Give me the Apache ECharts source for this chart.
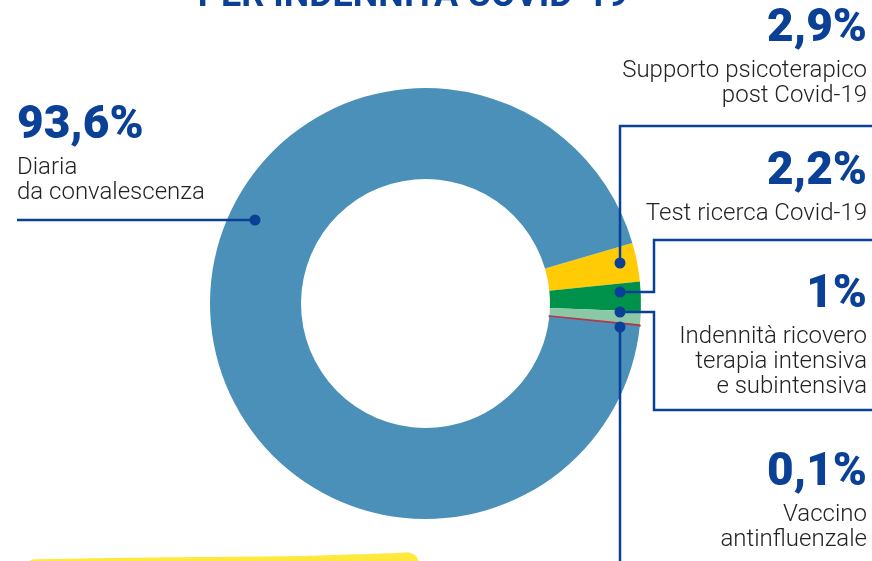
<!DOCTYPE html>
<html>
<head>
<meta charset="utf-8">
<title>Indennità Covid-19</title>
<script src="https://cdn.jsdelivr.net/npm/echarts@6/dist/echarts.min.js"></script>
<style>
  html, body { margin: 0; padding: 0; background: #fff; }
  #chart { width: 872px; height: 561px; }
</style>
</head>
<body>
<div id="chart"></div>
<script>
// dati
const categories = [
  'Supporto psicoterapico\npost Covid-19',
  'Test ricerca Covid-19',
  'Indennità ricovero\nterapia intensiva\ne subintensiva',
  'Vaccino\nantinfluenzale',
  'Diaria\nda convalescenza'
]
const values = [2.9, 2.2, 1, 0.1, 93.6]
const percentLabels = ['2,9%', '2,2%', '1%', '0,1%', '93,6%']
const sliceColors = ['#ffcb05', '#00914a', '#8bc9a6', '#b5374f', '#4a90b8']

const BLUE = '#0a4096'
const TEXT = '#222222'

const chart = echarts.init(document.getElementById('chart'), null, { renderer: 'canvas' })

// posizione dei blocchi di testo (baseline del numero, x, allineamento)
const blocks = [
  { x: 867, y: 43, align: 'right' },
  { x: 867, y: 186, align: 'right' },
  { x: 867, y: 309, align: 'right' },
  { x: 867, y: 487, align: 'right' },
  { x: 17, y: 140, align: 'left' }
]

// linee di richiamo (punto sulla ciambella + spezzata)
const callouts = [
  [[620, 263], [620, 126], [872, 126]],
  [[620, 292], [654, 292], [654, 240], [872, 240]],
  [[620, 312], [654, 312], [654, 410], [872, 410]],
  [[620, 327], [620, 561]],
  [[255, 220], [17, 220]]
]

const graphics = []

// titolo (tagliato in alto)
graphics.push({
  type: 'text',
  x: 413, y: 15,
  style: {
    text: 'PER INDENNITÀ COVID-19',
    font: 'bold 36px Roboto',
    fill: BLUE,
    align: 'center',
    verticalAlign: 'bottom'
  }
})

// evidenziatore giallo in basso
graphics.push({
  type: 'polygon',
  shape: {
    points: [[30, 561], [32, 559.5], [150, 557.5], [300, 556], [395, 553], [408, 552.5], [415, 555], [418, 561]],
    smooth: 0.2
  },
  style: { fill: '#ffe93f' }
})

categories.forEach(function (name, i) {
  const b = blocks[i]
  graphics.push({
    type: 'text',
    x: b.x, y: b.y - 14,
    style: {
      text: percentLabels[i],
      font: '900 46px Roboto',
      fill: BLUE,
      align: b.align,
      verticalAlign: 'middle'
    }
  })
  graphics.push({
    type: 'text',
    x: b.x, y: b.y + 15,
    style: {
      text: name,
      font: '300 24px Roboto',
      lineHeight: 25,
      fill: TEXT,
      align: b.align,
      verticalAlign: 'top'
    }
  })
})

callouts.forEach(function (pts) {
  graphics.push({
    type: 'polyline',
    z: 10,
    shape: { points: pts },
    style: { stroke: BLUE, lineWidth: 2.5, fill: null }
  })
  graphics.push({
    type: 'circle',
    z: 11,
    shape: { cx: pts[0][0], cy: pts[0][1], r: 5.5 },
    style: { fill: BLUE }
  })
})

const option = {
  backgroundColor: '#ffffff',
  animation: false,
  series: [
    {
      name: 'Indennità Covid-19',
      type: 'pie',
      center: [425.5, 303.5],
      radius: [124.5, 215.5],
      startAngle: 16.3,
      clockwise: true,
      avoidLabelOverlap: false,
      label: { show: false },
      labelLine: { show: false },
      emphasis: { disabled: true },
      itemStyle: { borderWidth: 0 },
      data: categories.map(function (name, i) {
        const style = { color: sliceColors[i] }
        // la fetta più sottile resta visibile come nel grafico originale
        if (values[i] < 0.5) {
          style.borderColor = sliceColors[i]
          style.borderWidth = 1.5
        }
        return { name: name, value: values[i], itemStyle: style }
      })
    }
  ],
  graphic: { elements: graphics }
}

chart.setOption(option)
</script>
</body>
</html>
